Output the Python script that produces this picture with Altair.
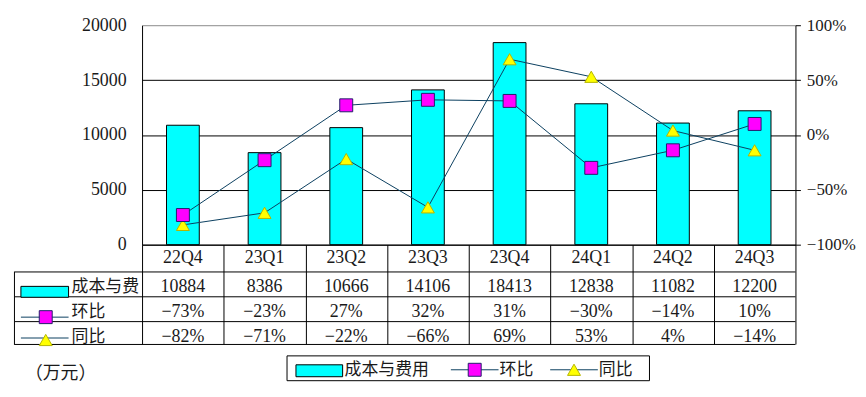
import altair as alt
import pandas as pd

# ---------------- data ----------------
cats = ["22Q4", "23Q1", "23Q2", "23Q3", "23Q4", "24Q1", "24Q2", "24Q3"]
cost = [10884, 8386, 10666, 14106, 18413, 12838, 11082, 12200]
qoq = [-73, -23, 27, 32, 31, -30, -14, 10]
yoy = [-82, -71, -22, -66, 69, 53, 4, -14]
left_ticks = [0, 5000, 10000, 15000, 20000]
right_ticks = [-100, -50, 0, 50, 100]

S_COST = "成本与费用"
S_QOQ = "环比"
S_YOY = "同比"
UNIT = "（万元）"

FONT = "Liberation Serif, Noto Sans CJK SC"
TXT = "#1a1a1a"
LINE = "#0B4060"
CYAN = "#00FFFF"
MAGENTA = "#FF00FF"
YELLOW = "#FFFF00"

df_bar = pd.DataFrame({"cat": cats, "cost": cost})
df_long = pd.DataFrame(
    {"cat": cats + cats,
     "series": [S_YOY] * len(cats) + [S_QOQ] * len(cats),
     "val": yoy + qoq}
)


def pct(v):
    return f"{v}%".replace("-", "−")


df_table = pd.DataFrame(
    {"cat": cats * 4,
     "row": ["cat"] * 8 + ["cost"] * 8 + ["qoq"] * 8 + ["yoy"] * 8,
     "label": cats + [str(v) for v in cost] + [pct(v) for v in qoq] + [pct(v) for v in yoy]}
)
one = pd.DataFrame({"k": [0]})

# ---------------- scales / axes ----------------
x_enc = alt.X(
    "cat:N", sort=cats, title=None,
    scale=alt.Scale(paddingInner=0, paddingOuter=0),
    axis=alt.Axis(labels=False, tickBand="extent", tickSize=100, tickColor="black",
                  tickWidth=1, domainColor="black", domainWidth=1, title=None),
)

y_left = alt.Y(
    "cost:Q", title=None,
    scale=alt.Scale(domain=[0, 20000], nice=False),
    axis=alt.Axis(values=left_ticks, grid=True, format="d",
                  gridColor={"condition": {"test": "datum.value === 20000", "value": "#8a8a8a"},
                             "value": "#000000"},
                  gridOpacity=1, gridWidth=1, domainColor="black", ticks=False, tickSize=0,
                  labelPadding=16, labelFont=FONT, labelFontSize=18, labelColor=TXT,
                  orient="left"),
)

y_right = alt.Y(
    "val:Q", title=None,
    scale=alt.Scale(domain=[-100, 100], nice=False, zero=False),
    axis=alt.Axis(orient="right", values=right_ticks, grid=False,
                  labelExpr="replace(datum.value + '%', '-', '−')",
                  tickSize=5, tickColor="black", domainColor="black", labelPadding=6,
                  labelFont=FONT, labelFontSize=17, labelColor=TXT),
)

bars = alt.Chart(df_bar).mark_bar(size=33, color=CYAN, stroke="black", strokeWidth=1).encode(
    x=x_enc, y=y_left
)

lines = alt.Chart(df_long).mark_line(color=LINE, strokeWidth=1).encode(
    x=x_enc, y=y_right, detail="series:N"
)
points = alt.Chart(df_long).mark_point(filled=True, opacity=1, size=170, strokeWidth=1).encode(
    x=x_enc, y=y_right,
    fill=alt.Fill("series:N", scale=alt.Scale(domain=[S_QOQ, S_YOY], range=[MAGENTA, YELLOW]), legend=None),
    stroke=alt.Stroke("series:N", scale=alt.Scale(domain=[S_QOQ, S_YOY], range=["#20206A", "#B5B500"]), legend=None),
    shape=alt.Shape("series:N", scale=alt.Scale(domain=[S_QOQ, S_YOY], range=["square", "triangle-up"]), legend=None),
    order=alt.Order("series:N", sort="ascending"),
)
line_layer = alt.layer(lines, points)

# ---------------- data table ----------------
table_layers = []
for row, yv in [("cat", 234), ("cost", 264), ("qoq", 289), ("yoy", 314)]:
    table_layers.append(
        alt.Chart(df_table).transform_filter(alt.datum.row == row)
        .mark_text(font=FONT, fontSize=18, color=TXT, baseline="middle", align="center")
        .encode(x=x_enc, y=alt.value(yv), text="label:N")
    )


def rule(x1, x2, y1, y2, color="black", w=1):
    return alt.Chart(one).mark_rule(color=color, strokeWidth=w).encode(
        x=alt.value(x1), x2=alt.value(x2), y=alt.value(y1), y2=alt.value(y2)
    )


def txt(s, x, y, size=17, align="left", **kw):
    return alt.Chart(one).mark_text(text=s, font=FONT, fontSize=size, color=TXT,
                                    baseline="middle", align=align, **kw).encode(
        x=alt.value(x), y=alt.value(y)
    )


def rect(x1, x2, y1, y2, fill, stroke="black"):
    return alt.Chart(one).mark_rect(fill=fill, stroke=stroke, strokeWidth=1).encode(
        x=alt.value(x1), x2=alt.value(x2), y=alt.value(y1), y2=alt.value(y2)
    )


def sym(x, y, shape, fill, stroke, size=170):
    return alt.Chart(one).mark_point(shape=shape, filled=True, fill=fill, stroke=stroke,
                                     strokeWidth=1, size=size, opacity=1).encode(
        x=alt.value(x), y=alt.value(y)
    )


grid_layers = []
for yv in [248.5, 273.5, 298.5, 321.5]:
    grid_layers.append(rule(-128, 658, yv, yv))
grid_layers.append(rule(-128.5, -128.5, 248, 322))

# row headers with keys
head_layers = [
    rect(-122, -74, 263, 274, CYAN),
    txt(S_COST, -71, 264, limit=71, ellipsis="\u200b"),
    rule(-122, -74, 294, 294, LINE),
    sym(-97, 294, "square", MAGENTA, "#20206A"),
    txt(S_QOQ, -71, 289),
    rule(-122, -74, 315, 315, LINE),
    sym(-97, 317, "triangle-up", YELLOW, "#B5B500"),
    txt(S_YOY, -71, 314),
]

# legend box
legend_layers = [
    rect(146, 511, 333, 358, "white"),
    rect(155, 202, 342, 354, CYAN),
    txt(S_COST, 204, 347),
    rule(311, 359, 347, 347, LINE),
    sym(335, 347, "square", MAGENTA, "#20206A"),
    txt(S_QOQ, 360, 347),
    rule(411, 459, 347, 347, LINE),
    sym(435, 347, "triangle-up", YELLOW, "#B5B500"),
    txt(S_YOY, 460, 347),
    txt(UNIT, -118, 351, size=18),
]

chart = (
    alt.layer(bars, line_layer, *table_layers, *grid_layers, *head_layers, *legend_layers)
    .resolve_scale(y="independent")
    .properties(
        width=658, height=221,
        autosize=alt.AutoSizeParams(type="none"),
        padding={"left": 135, "top": 16, "right": 63, "bottom": 140},
        background="white",
    )
    .configure_view(stroke=None)
)

chart.save("out.html", embed_options={"renderer": "svg", "actions": False})
